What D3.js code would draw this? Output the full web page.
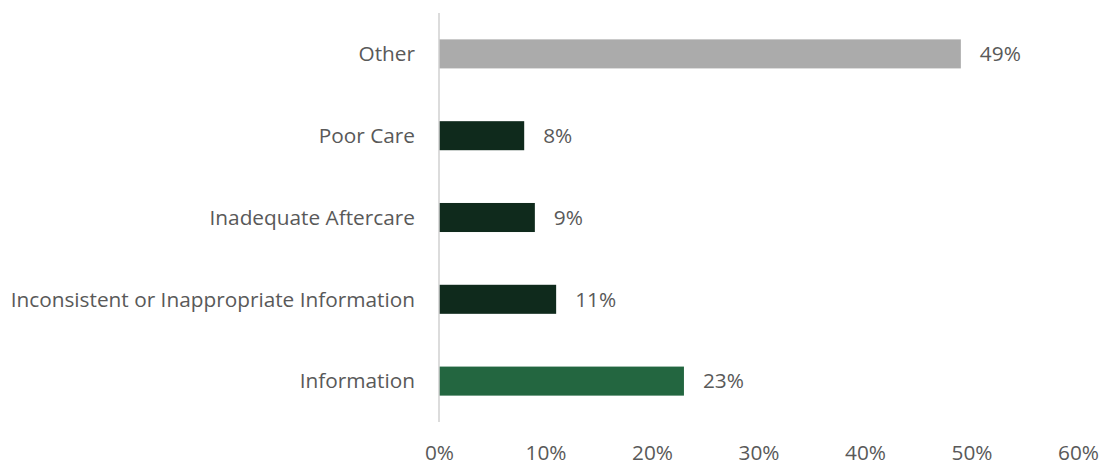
<!DOCTYPE html>
<html>
<head>
<meta charset="utf-8">
<script src="https://cdn.jsdelivr.net/npm/d3@7"></script>
<style>
  html, body { margin: 0; padding: 0; background: #fff; }
  svg text { font-family: "Open Sans", sans-serif; fill: #595959; }
</style>
</head>
<body>
<svg id="chart" width="1102" height="465"></svg>
<script>
// Complaint categories, top to bottom
const categories = [
  "Other",
  "Poor Care",
  "Inadequate Aftercare",
  "Inconsistent or Inappropriate Information",
  "Information"
];
// Share of complaints (%)
const shares = [49, 8, 9, 11, 23];
const barColors = ["#ababab", "#0f2a1c", "#0f2a1c", "#0f2a1c", "#236640"];
const tickValues = [0, 10, 20, 30, 40, 50, 60];

const FONT = "'Open Sans', sans-serif";
const FS = 20.8;

const svg = d3.select("#chart");
const margin = { left: 439, right: 24, top: 13, bottom: 43 };
const W = 1102, H = 465;

const x = d3.scaleLinear().domain([0, 60]).range([margin.left, W - margin.right]);
const y = d3.scaleBand().domain(categories).range([margin.top, H - margin.bottom]).paddingInner(0.645).paddingOuter(0.3225);

// Bars
svg.append("g").selectAll("rect")
  .data(categories)
  .join("rect")
  .attr("x", x(0))
  .attr("y", d => y(d))
  .attr("width", (d, i) => x(shares[i]) - x(0))
  .attr("height", y.bandwidth())
  .attr("fill", (d, i) => barColors[i]);

// Vertical axis line
svg.append("line")
  .attr("x1", x(0)).attr("x2", x(0))
  .attr("y1", margin.top).attr("y2", H - margin.bottom)
  .attr("stroke", "#d0d0d0").attr("stroke-width", 1.5);

// Category labels
svg.append("g").selectAll("text")
  .data(categories)
  .join("text")
  .attr("x", x(0) - 24)
  .attr("y", d => y(d) + y.bandwidth() / 2)
  .attr("dy", "0.35em")
  .attr("text-anchor", "end")
  .attr("font-size", FS)
  .text(d => d);

// Value labels
svg.append("g").selectAll("text")
  .data(categories)
  .join("text")
  .attr("x", (d, i) => x(shares[i]) + 19)
  .attr("y", d => y(d) + y.bandwidth() / 2)
  .attr("dy", "0.35em")
  .attr("font-size", FS)
  .text((d, i) => shares[i] + "%");

// X axis tick labels
const xAxis = d3.axisBottom(x).tickValues(tickValues).tickFormat(d => d + "%").tickSize(0).tickPadding(0);
const gx = svg.append("g").attr("transform", `translate(0, ${H - 12})`).call(xAxis);
gx.select(".domain").remove();
gx.selectAll("text")
  .attr("font-size", FS)
  .attr("dy", "0.35em")
  .style("font-family", FONT)
  .attr("fill", "#595959");
</script>
</body>
</html>
